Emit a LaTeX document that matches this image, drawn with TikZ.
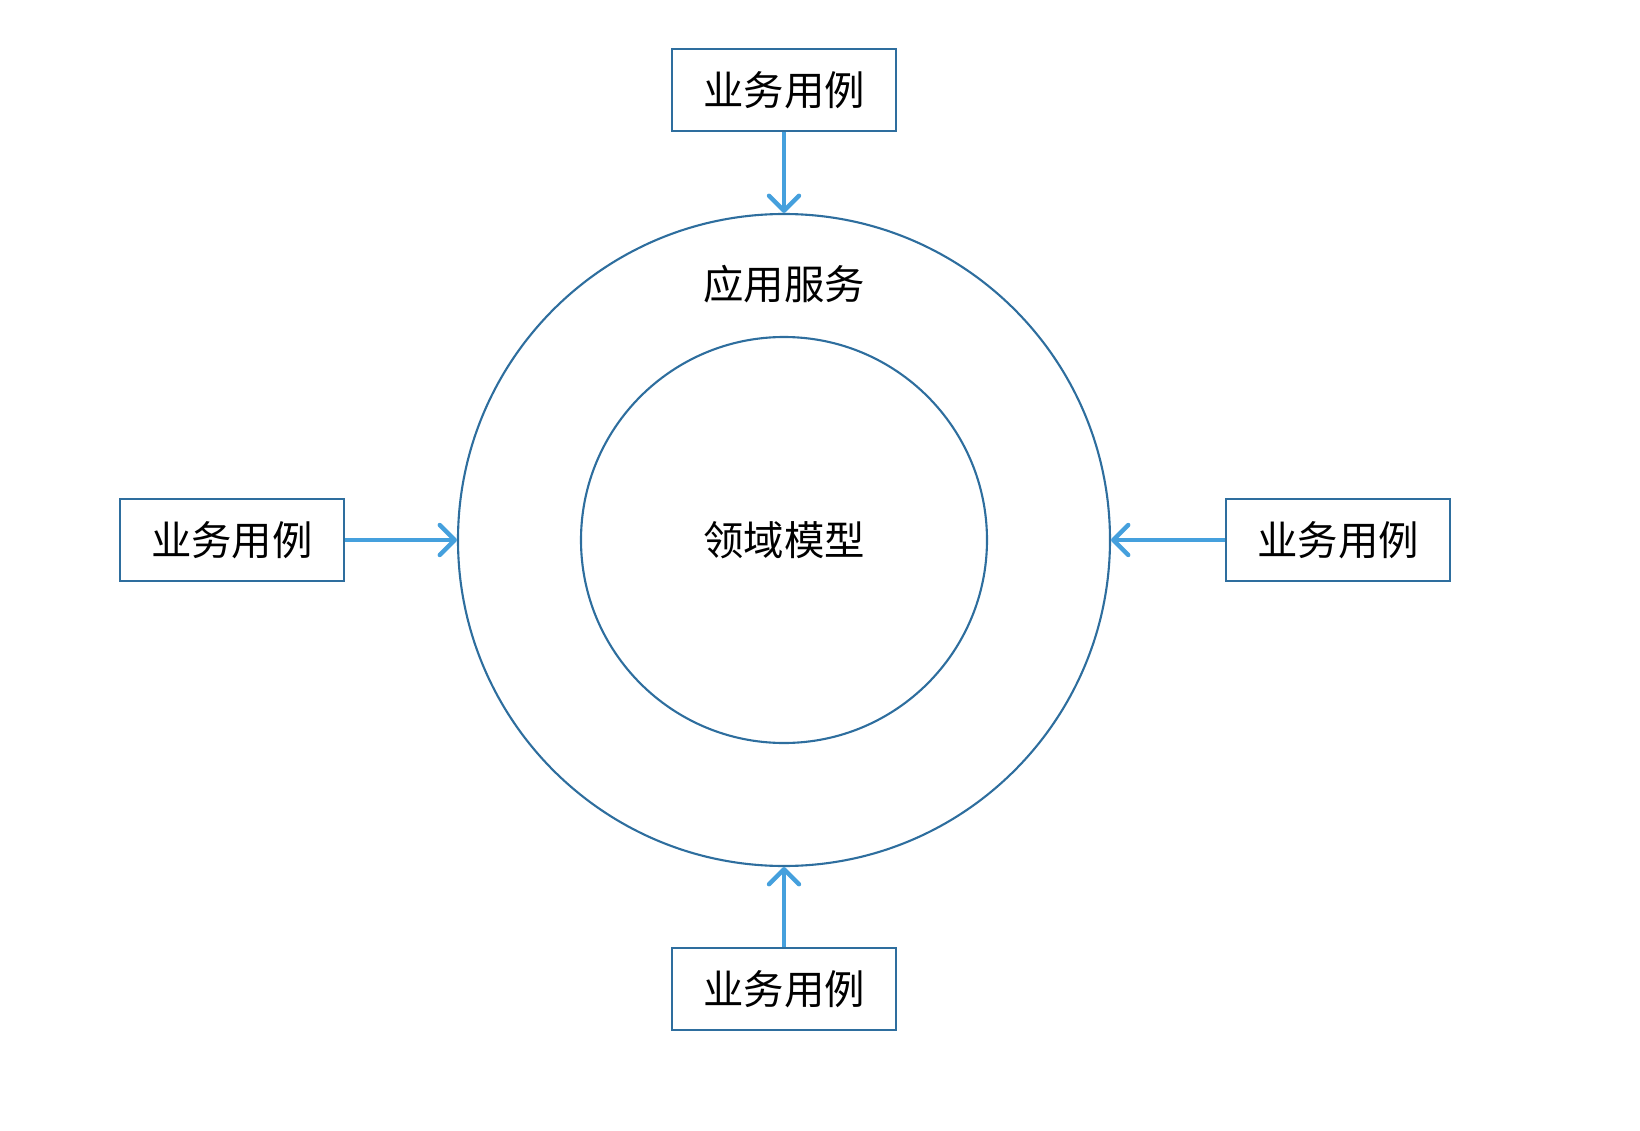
\documentclass[tikz,border=0pt]{standalone}
\usepackage{fontspec}
\setmainfont{Noto Sans CJK SC}
\usepackage{tikz}
\usetikzlibrary{arrows.meta}
\definecolor{ringblue}{HTML}{2E6E9E}
\definecolor{arrowblue}{HTML}{45A0DD}
\tikzset{
	usecase/.style={draw=ringblue,line width=1.3pt,minimum width=4.48cm,minimum height=1.64cm,font=\fontsize{23}{27}\selectfont},
	ring/.style={draw=ringblue,line width=1.2pt,circle,inner sep=0pt},
	flow/.style={draw=arrowblue,line width=2.5pt,-{Straight Barb[round,length=3mm,width=6mm]}}
}

\begin{document}
\begin{tikzpicture}
				\useasboundingbox (-15.68,-11.8) rectangle (17.12,10.8);
				%Nodes
				\node[ring,minimum size=13.04cm] (outer) at (0,0) {};
				\node[ring,minimum size=8.12cm]  (inner) at (0,0) {};
				\node[font=\fontsize{23}{27}\selectfont] (app) at (0,5.12) {应用服务};
				\node[font=\fontsize{23}{27}\selectfont] (domain) at (0,0) {领域模型};
				\node[usecase] (top)    at (0,9)      {业务用例};
				\node[usecase] (bottom) at (0,-8.98)  {业务用例};
				\node[usecase] (left)   at (-11.04,0) {业务用例};
				\node[usecase] (right)  at (11.08,0)  {业务用例};

				%Lines
				\draw[flow] (top)    -- (outer.north);
				\draw[flow] (bottom) -- (outer.south);
				\draw[flow] (left)   -- (outer.west);
				\draw[flow] (right)  -- (outer.east);
\end{tikzpicture}
\end{document}
